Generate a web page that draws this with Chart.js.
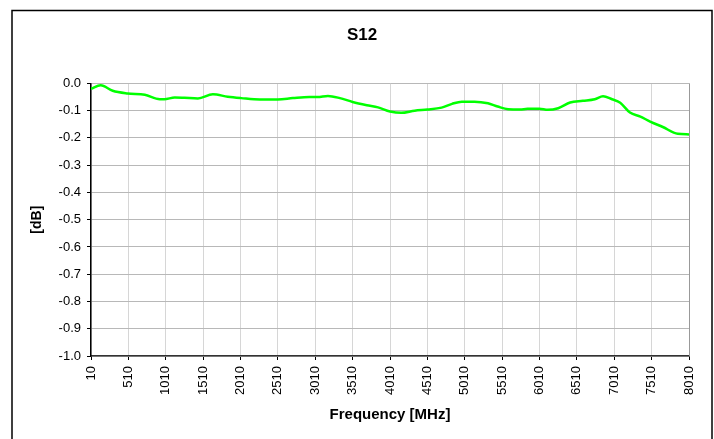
<!DOCTYPE html>
<html>
<head>
<meta charset="utf-8">
<script src="https://cdn.jsdelivr.net/npm/chart.js@4.4.1/dist/chart.umd.min.js"></script>
<style>
  html, body { margin: 0; padding: 0; background: #fff; }
  #wrap { width: 714px; height: 439px; }
</style>
</head>
<body>
<div id="wrap"><canvas id="s12Chart" width="714" height="439"></canvas></div>
<script>
// S12 chart

const freqs = [10, 140, 300, 500, 730, 930, 990, 1130, 1260, 1440, 1640, 1840, 2020,
  2270, 2510, 2710, 2930, 3040, 3180, 3340, 3510, 3700, 3850, 4010, 4160, 4340,
  4510, 4700, 4840, 4970, 5140, 5320, 5450, 5590, 5750, 5850, 6010, 6120, 6260,
  6420, 6590, 6750, 6860, 6980, 7090, 7220, 7360, 7490, 7660, 7860, 8010];
const s12 = [-0.020, -0.007, -0.027, -0.037, -0.042, -0.058, -0.058, -0.052, -0.053,
  -0.055, -0.040, -0.049, -0.054, -0.059, -0.059, -0.054, -0.050, -0.050, -0.046,
  -0.054, -0.068, -0.080, -0.088, -0.103, -0.108, -0.100, -0.096, -0.089, -0.075,
  -0.067, -0.067, -0.073, -0.085, -0.095, -0.096, -0.093, -0.093, -0.097, -0.091,
  -0.070, -0.064, -0.058, -0.047, -0.058, -0.071, -0.107, -0.122, -0.140, -0.160,
  -0.185, -0.187];

const xTicks = [10, 510, 1010, 1510, 2010, 2510, 3010, 3510, 4010, 4510, 5010,
  5510, 6010, 6510, 7010, 7510, 8010];
const yTicks = [0.0, -0.1, -0.2, -0.3, -0.4, -0.5, -0.6, -0.7, -0.8, -0.9, -1.0];

const FONT = '"Liberation Sans", Arial, sans-serif';

// outer frame + darker right edge of the plot area
const framePlugin = {
  id: 'frame',
  afterDraw(chart) {
    const ctx = chart.ctx;
    const a = chart.chartArea;
    ctx.save();
    ctx.strokeStyle = '#999999';
    ctx.lineWidth = 1;
    ctx.beginPath();
    ctx.moveTo(Math.round(a.right) + 0.5, a.top);
    ctx.lineTo(Math.round(a.right) + 0.5, a.bottom);
    ctx.stroke();
    ctx.strokeStyle = '#000';
    ctx.lineWidth = 1.5;
    ctx.strokeRect(12, 10.5, 700, 460);
    ctx.restore();
  }
};

const points = freqs.map((f, i) => ({ x: f, y: s12[i] }));

new Chart(document.getElementById('s12Chart').getContext('2d'), {
  type: 'line',
  data: {
    datasets: [{
      label: 'S12',
      data: points,
      borderColor: '#00ff00',
      borderWidth: 2.5,
      pointRadius: 0,
      cubicInterpolationMode: 'monotone',
      fill: false
    }]
  },
  options: {
    responsive: false,
    animation: false,
    // left/right padding chosen so the title centres on the framed box
    layout: { padding: { left: 35, right: 25, top: 0, bottom: 0 } },
    plugins: {
      legend: { display: false },
      tooltip: { enabled: false },
      title: {
        display: true,
        text: 'S12',
        color: '#000',
        font: { family: FONT, size: 17, weight: 'bold' },
        padding: { top: 25, bottom: 38 }
      }
    },
    scales: {
      x: {
        type: 'linear',
        min: 10,
        max: 8010,
        afterBuildTicks: (scale) => { scale.ticks = xTicks.map(v => ({ value: v })); },
        afterFit: (scale) => { scale.height = 83; },
        ticks: {
          color: '#000',
          font: { family: FONT, size: 13 },
          minRotation: 90,
          maxRotation: 90,
          autoSkip: false,
          padding: 6,
          callback: (v) => String(v)
        },
        grid: { color: '#d6d6d6', tickColor: '#000', tickLength: 4 },
        border: { color: '#333', width: 1.5 },
        title: {
          display: true,
          text: 'Frequency [MHz]',
          color: '#000',
          font: { family: FONT, size: 15, weight: 'bold' },
          padding: { top: 0, bottom: 15 }
        }
      },
      y: {
        min: -1,
        max: 0,
        afterBuildTicks: (scale) => { scale.ticks = yTicks.map(v => ({ value: v })); },
        afterFit: (scale) => { scale.width = 56; },
        ticks: {
          color: '#000',
          font: { family: FONT, size: 13 },
          padding: 6,
          callback: (v) => v.toFixed(1)
        },
        grid: { color: '#b8b8b8', tickColor: '#000', tickLength: 4 },
        border: { color: '#000', width: 1.5 },
        title: {
          display: true,
          text: '[dB]',
          color: '#000',
          font: { family: FONT, size: 14, weight: 'bold' },
          padding: { top: -6, bottom: 0 }
        }
      }
    }
  },
  plugins: [framePlugin]
});
</script>
</body>
</html>
